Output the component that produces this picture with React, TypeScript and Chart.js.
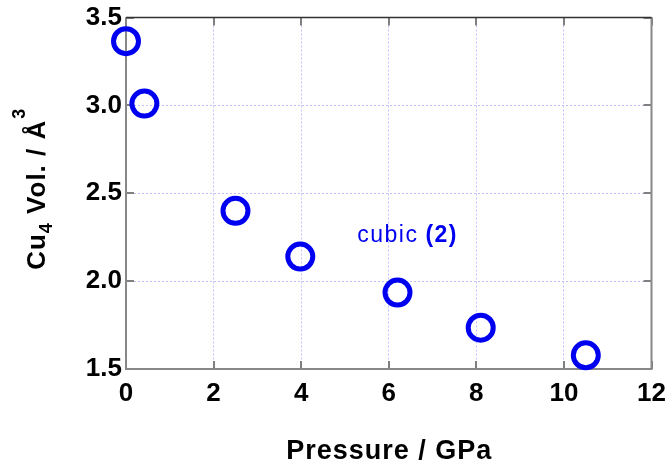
import React, { useEffect, useRef } from 'react';
import { Chart, registerables } from 'chart.js';
Chart.register(...registerables);

const pressure = [0, 0.42, 2.5, 3.98, 6.2, 8.1, 10.5];
const volume = [3.365, 3.01, 2.4, 2.14, 1.935, 1.735, 1.578];
const xTickValues = [0, 2, 4, 6, 8, 10, 12];
const yTickValues = [1.5, 2.0, 2.5, 3.0, 3.5];
const seriesName = 'cubic';
const seriesTag = '(2)';
const labelPos = [5.28, 2.22];
const xTitle = 'Pressure / GPa';
const yTitleMain1 = 'Cu';
const yTitleSub = '4';
const yTitleMain2 = ' Vol. / Å';
const yTitleSup = '3';

const FONT = '"Liberation Sans", Arial, sans-serif';
const BLUE = '#0000f0';

const decorPlugin = {
  id: 'decor',
  beforeDatasetsDraw(chart: any) {
    const { ctx, chartArea: a, scales } = chart;
    ctx.save();
    ctx.strokeStyle = '#808080';
    ctx.lineWidth = 2;
    const tl = 8;
    ctx.beginPath();
    for (const v of xTickValues) {
      const px = Math.round(scales.x.getPixelForValue(v));
      ctx.moveTo(px, a.bottom); ctx.lineTo(px, a.bottom - tl);
      ctx.moveTo(px, a.top); ctx.lineTo(px, a.top + tl);
    }
    for (const v of yTickValues) {
      const py = Math.round(scales.y.getPixelForValue(v));
      ctx.moveTo(a.left, py); ctx.lineTo(a.left + tl, py);
      ctx.moveTo(a.right, py); ctx.lineTo(a.right - tl, py);
    }
    ctx.stroke();
    ctx.lineWidth = 2;
    ctx.strokeStyle = '#888';
    ctx.beginPath();
    ctx.moveTo(a.left, a.top); ctx.lineTo(a.left, a.bottom); ctx.lineTo(a.right, a.bottom); ctx.lineTo(a.right, a.top);
    ctx.stroke();
    ctx.lineWidth = 1.5;
    ctx.strokeStyle = '#333';
    ctx.beginPath();
    ctx.moveTo(a.left, a.top); ctx.lineTo(a.right, a.top);
    ctx.stroke();
    ctx.restore();
  },
  afterDraw(chart: any) {
    const { ctx, chartArea: a, scales } = chart;
    ctx.save();
    // annotation
    const lx = scales.x.getPixelForValue(labelPos[0]);
    const ly = scales.y.getPixelForValue(labelPos[1]);
    ctx.fillStyle = BLUE;
    ctx.textBaseline = 'alphabetic';
    ctx.textAlign = 'left';
    (ctx as any).letterSpacing = '1.5px';
    ctx.font = `23px ${FONT}`;
    ctx.fillText(seriesName, lx, ly);
    const w1 = ctx.measureText(seriesName).width;
    ctx.font = `bold 23px ${FONT}`;
    ctx.fillText(seriesTag, lx + w1 + 7, ly);

    // x title
    ctx.fillStyle = '#000';
    (ctx as any).letterSpacing = '1px';
    ctx.font = `bold 27px ${FONT}`;
    ctx.textAlign = 'center';
    ctx.fillText(xTitle, (a.left + a.right) / 2 + 0.5, 459);

    // y title
    ctx.textAlign = 'left';
    const cy = (a.top + a.bottom) / 2 - 4;
    const bx = 45;
    ctx.translate(bx, cy);
    ctx.rotate(-Math.PI / 2);
    ctx.textBaseline = 'alphabetic';
    (ctx as any).letterSpacing = '1px';
    const big = `bold 26px ${FONT}`;
    const small = `bold 18px ${FONT}`;
    ctx.font = big; const w_a = ctx.measureText(yTitleMain1).width;
    ctx.font = small; const w_b = ctx.measureText(yTitleSub).width;
    ctx.font = big; const w_c = ctx.measureText(yTitleMain2).width;
    ctx.font = small; const w_d = ctx.measureText(yTitleSup).width;
    let x = -(w_a + w_b + w_c + w_d) / 2;
    ctx.font = big; ctx.fillText(yTitleMain1, x, 0); x += w_a;
    ctx.font = small; ctx.fillText(yTitleSub, x, 7); x += w_b;
    ctx.font = big; ctx.fillText(yTitleMain2, x, 0); x += w_c;
    ctx.font = small; ctx.fillText(yTitleSup, x + 1, -20);
    (ctx as any).letterSpacing = '0px';
    ctx.restore();
  },
};

export default function App() {
  const ref = useRef<HTMLCanvasElement>(null);
  useEffect(() => {
    const chart = new Chart(ref.current!, {
      type: 'scatter',
      data: {
        datasets: [
          {
            label: seriesName + ' ' + seriesTag,
            data: pressure.map((p, i) => ({ x: p, y: volume[i] })),
            pointRadius: 12.5,
            pointHoverRadius: 12.5,
            pointBorderWidth: 5,
            pointBackgroundColor: 'rgba(0,0,0,0)',
            pointBorderColor: BLUE,
            showLine: false,
            clip: false as any,
          },
        ],
      },
      options: {
        responsive: false,
        animation: false,
        layout: { padding: { top: 17, right: 16, left: 0, bottom: 0 } },
        plugins: { legend: { display: false }, tooltip: { enabled: false } },
        scales: {
          x: {
            type: 'linear',
            min: 0,
            max: 12,
            afterBuildTicks: (s: any) => { s.ticks = xTickValues.map((v) => ({ value: v })); },
            afterFit: (s: any) => { s.height = 99; s.paddingLeft = 0; s.paddingRight = 0; },
            ticks: {
              color: '#000',
              font: { family: FONT, size: 26, weight: 'bold' },
              padding: 9,
              maxRotation: 0,
              autoSkip: false,
            },
            grid: {
              color: '#c0c0ff',
              lineWidth: 1,
              drawTicks: false,
              tickLength: 0,
            },
            border: { display: false, dash: [2, 2] },
            title: { display: false },
          },
          y: {
            type: 'linear',
            min: 1.5,
            max: 3.5,
            afterBuildTicks: (s: any) => { s.ticks = yTickValues.map((v) => ({ value: v })); },
            afterFit: (s: any) => { s.width = 126; s.paddingTop = 0; s.paddingBottom = 0; },
            ticks: {
              color: '#000',
              font: { family: FONT, size: 26, weight: 'bold' },
              padding: 4,
              callback: (v: any) => Number(v).toFixed(1),
            },
            grid: {
              color: '#c0c0ff',
              lineWidth: 1,
              drawTicks: false,
              tickLength: 0,
            },
            border: { display: false, dash: [2, 2] },
          },
        },
      },
      plugins: [decorPlugin],
    } as any);
    return () => chart.destroy();
  }, []);
  return (
    <div style={{ position: 'absolute', left: 0, top: 0, width: 669, height: 468, background: '#fff' }}>
      <canvas ref={ref} width={669} height={468} />
    </div>
  );
}
